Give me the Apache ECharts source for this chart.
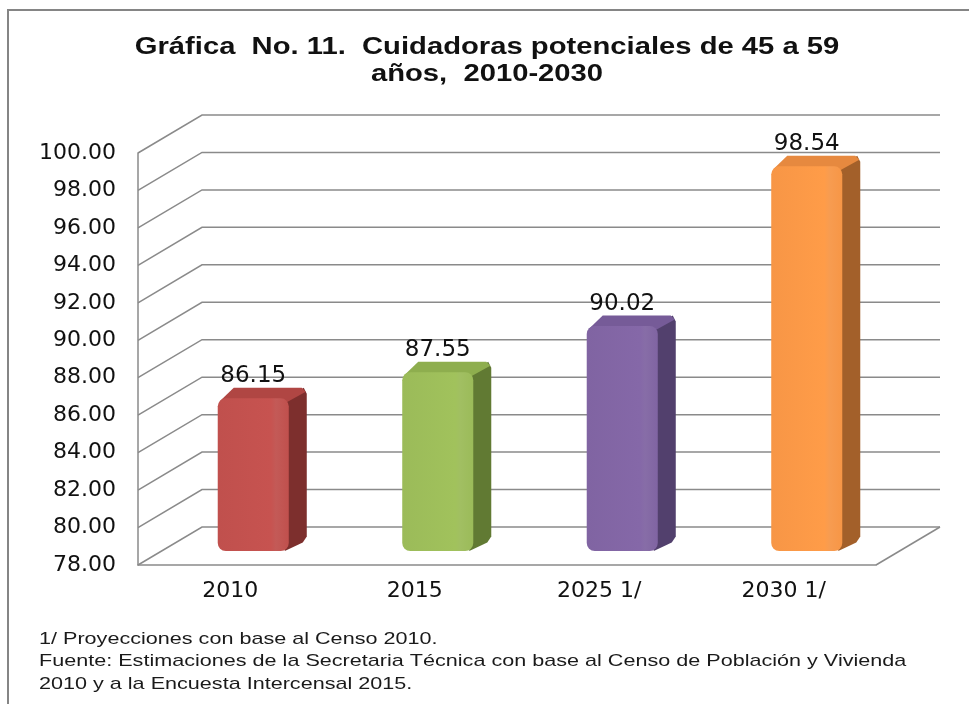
<!DOCTYPE html>
<html>
<head>
<meta charset="utf-8">
<script src="https://cdn.jsdelivr.net/npm/echarts@6/dist/echarts.min.js"></script>
<style>html,body{margin:0;padding:0;background:#fff;}#c{width:969px;height:704px;}</style>
</head>
<body>
<div id="c"></div>
<script>
const categories = ['2010', '2015', '2025 1/', '2030 1/'];
const values = [86.15, 87.55, 90.02, 98.54];
const yTicks = [78, 80, 82, 84, 86, 88, 90, 92, 94, 96, 98, 100];
const frontColors = ['#c0504d', '#9bbb59', '#8064a2', '#f79646'];
const sideColors = ['#7d2f2d', '#617a33', '#52406d', '#a3602a'];
const topColors = ['#b04643', '#8eae4e', '#765b98', '#e6893f'];
const titleText = 'Gráfica  No. 11.  Cuidadoras potenciales de 45 a 59\naños,  2010-2030';
const notes = '1/ Proyecciones con base al Censo 2010.\nFuente: Estimaciones de la Secretaria Técnica con base al Censo de Población y Vivienda\n2010 y a la Encuesta Intercensal 2015.';

const DX = 64, DY = 38;        // wall depth
const FX = 23, FY = 14;        // bar front-face offset into depth
const BX = 18, BY = 10.5;      // bar depth
const gridColor = '#8a8a8a';
const yMin = 78, yMax = 100;
const STRETCH = 1.27;

const chart = echarts.init(document.getElementById('c'));
chart.setOption({
  backgroundColor: '#fff',
  animation: false,
  graphic: [
    { type: 'rect', shape: { x: 8, y: 10, width: 1100, height: 800 }, style: { fill: 'none', stroke: '#858585', lineWidth: 2 }, silent: true },
    { type: 'text', x: 487, y: 33.5, scaleX: STRETCH, silent: true,
      style: { text: titleText, align: 'center', verticalAlign: 'top', font: 'bold 23px "Liberation Sans", Arial', lineHeight: 27.5, fill: '#111' } },
    { type: 'text', x: 39, y: 628, scaleX: 1.27, silent: true,
      style: { text: notes, align: 'left', verticalAlign: 'top', font: '17px "Liberation Sans", Arial', lineHeight: 22.5, fill: '#1a1a1a' } }
  ],
  grid: { left: 138, right: 93, top: 153, bottom: 139, containLabel: false },
  xAxis: {
    type: 'category',
    data: categories,
    axisLine: { show: true, lineStyle: { color: gridColor, width: 1.5 } },
    axisTick: { show: false },
    axisLabel: { margin: 15, fontFamily: 'DejaVu Sans', fontSize: 22, color: '#111' },
    splitLine: { show: false }
  },
  yAxis: {
    type: 'value',
    min: yMin, max: yMax, interval: 2,
    axisLine: { show: true, lineStyle: { color: gridColor, width: 1.5 } },
    axisTick: { show: false },
    axisLabel: { margin: 22, fontFamily: 'DejaVu Sans', fontSize: 22, color: '#111', formatter: v => v.toFixed(2) },
    splitLine: { show: false }
  },
  series: [
    {
      type: 'custom',
      clip: false,
      silent: true,
      z: 1,
      data: yTicks.map(v => [0, v]),
      renderItem: function (params, api) {
        const cs = params.coordSys;
        const y = api.coord([0, api.value(1)])[1];
        const x0 = cs.x, x1 = cs.x + cs.width;
        const children = [{
          type: 'polyline',
          shape: { points: [[x0, y], [x0 + DX, y - DY], [x1 + DX, y - DY]] },
          style: { stroke: gridColor, lineWidth: 1.5, fill: 'none' }
        }];
        if (params.dataIndex === 0) {
          children.push({
            type: 'line',
            shape: { x1: x1, y1: y, x2: x1 + DX, y2: y - DY },
            style: { stroke: gridColor, lineWidth: 1.5 }
          });
        }
        return { type: 'group', children: children };
      }
    },
    {
      type: 'custom',
      clip: false,
      z: 5,
      data: values.map((v, i) => [i, v]),
      renderItem: function (params, api) {
        const i = api.value(0), v = api.value(1);
        const top = api.coord([i, v]);
        const base = api.coord([i, yMin]);
        const band = api.size([1, 0])[0];
        const w = band * 0.385;
        const cx = top[0] + FX;
        const l = cx - w / 2, r = cx + w / 2;
        const t = top[1] - FY, b = base[1] - FY;
        const k = params.dataIndex;
        return {
          type: 'group',
          children: [
            { type: 'polygon', shape: { points: [[r - 4, t + 2], [r + BX - 3, t - BY], [r + BX, t - BY + 6], [r + BX, b - BY - 4], [r + BX - 4, b - BY + 2], [r - 4, b]] }, style: { fill: sideColors[k] } },
            { type: 'polygon', shape: { points: [[l + 2, t + 3], [l + BX - 2, t - BY], [r + BX - 5, t - BY], [r + BX - 1, t - BY + 4], [r - 2, t + 4]] }, style: { fill: topColors[k] } },
            { type: 'rect', shape: { x: l, y: t, width: w, height: b - t, r: 8 },
              style: { fill: { type: 'linear', x: 0, y: 0, x2: 1, y2: 0, colorStops: [
                { offset: 0, color: frontColors[k] },
                { offset: 0.75, color: echarts.color.lift(frontColors[k], -0.04) },
                { offset: 0.82, color: echarts.color.lift(frontColors[k], 0.06) },
                { offset: 1, color: frontColors[k] }
              ] } } },
            { type: 'text', style: { text: v.toFixed(2), x: cx, y: t - BY, align: 'center', verticalAlign: 'bottom', font: '23px "DejaVu Sans"', fill: '#111' } }
          ]
        };
      }
    }
  ]
});
</script>
</body>
</html>
